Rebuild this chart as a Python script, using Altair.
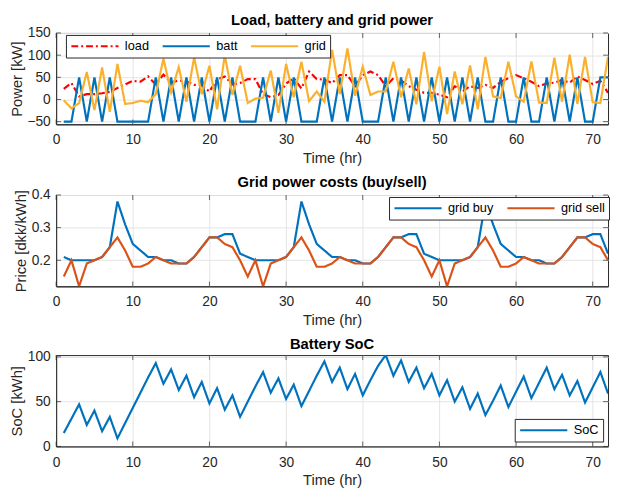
import altair as alt
import pandas as pd

hours = list(range(1, 73))

load = [24, 37, 7, 12, 12, 14, 17, 26, 34, 42, 40, 52, 34, 56, 38, 43, 41, 33, 32, 18,
        45, 52, 34, 37, 46, 46, 12, 5, 10, 36, 48, 25, 63, 46, 45, 37, 55, 55, 30, 55,
        63, 55, 30, 48, 43, 30, 22, 15, 15, 11, 5, 30, 18, 30, 26, 33, 26, 40, 48, 55,
        48, 40, 30, 36, 38, 44, 38, 52, 44, 35, 42, 15]

batt = [-50, -50, 50, -50, 50, -50, 50, -50, -50, -50, -50, -50, 50, -50, 50, -50, 50, -50, 50, -50,
        50, -50, 50, -50, -50, -50, 50, -50, 50, -50, 50, -50, -50, -50, 50, -50, 50, -50, 50, -50,
        -50, -50, 50, -50, 50, -50, 50, -50, 50, -50, 50, -50, 50, -50, 50, -50, -50, 50, -50, -50,
        50, -50, -50, 50, -50, 50, -50, 50, -50, -50, 50, 50]

grid = [-2, -20, -8, 62, -24, 72, -28, 80, -10, -8, -3, -6, 12, 92, 16, 73, -5, 95, 12, 76,
        -22, 100, 10, 76, -8, 2, 4, 65, -30, 80, 5, 85, -4, 18, -5, 112, 12, 115, 8, 74,
        10, 18, 18, 85, 5, 70, -11, 107, -4, 74, -33, 63, -11, 77, -22, 96, 7, 3, 85, 7,
        -5, 86, -7, -8, 94, -5, 101, -10, 96, -6, -8, 96]

price_buy = [0.21, 0.20, 0.20, 0.20, 0.20, 0.21, 0.24, 0.38, 0.31, 0.25, 0.23, 0.21,
             0.21, 0.20, 0.20, 0.19, 0.19, 0.21, 0.24, 0.27, 0.27, 0.28, 0.28, 0.22,
             0.21, 0.20, 0.20, 0.20, 0.20, 0.21, 0.24, 0.38, 0.31, 0.25, 0.23, 0.21,
             0.21, 0.20, 0.20, 0.19, 0.19, 0.21, 0.24, 0.27, 0.27, 0.28, 0.28, 0.22,
             0.21, 0.20, 0.20, 0.20, 0.20, 0.21, 0.24, 0.38, 0.31, 0.25, 0.23, 0.21,
             0.21, 0.20, 0.20, 0.19, 0.19, 0.21, 0.24, 0.27, 0.27, 0.28, 0.28, 0.22]

price_sell = [0.15, 0.20, 0.12, 0.19, 0.20, 0.21, 0.24, 0.27, 0.23, 0.18, 0.18, 0.19,
              0.21, 0.20, 0.19, 0.19, 0.19, 0.21, 0.24, 0.27, 0.27, 0.25, 0.24, 0.20,
              0.15, 0.20, 0.12, 0.19, 0.20, 0.21, 0.24, 0.27, 0.23, 0.18, 0.18, 0.19,
              0.21, 0.20, 0.19, 0.19, 0.19, 0.21, 0.24, 0.27, 0.27, 0.25, 0.24, 0.20,
              0.15, 0.20, 0.12, 0.19, 0.20, 0.21, 0.24, 0.27, 0.23, 0.18, 0.18, 0.19,
              0.21, 0.20, 0.19, 0.19, 0.19, 0.21, 0.24, 0.27, 0.27, 0.25, 0.24, 0.20]

soc = [15, 31, 47, 24, 40, 17, 33, 9, 26, 43, 60, 77, 93, 70, 86, 63, 79, 55, 72, 48,
       65, 41, 57, 33, 50, 67, 83, 60, 76, 53, 69, 45, 62, 79, 95, 72, 88, 64, 81, 57,
       74, 90, 102, 79, 96, 72, 88, 65, 81, 57, 74, 50, 66, 42, 59, 35, 51, 68, 44, 61,
       78, 54, 71, 88, 64, 80, 57, 73, 49, 66, 83, 59]

x_ticks = [0, 10, 20, 30, 40, 50, 60, 70]

FONT = "Liberation Sans"
AX = "#262626"
W = 562
H = 93
TL = 5  # inward tick length


def frame(name, values):
    return pd.DataFrame({"t": hours, "v": values, "s": name})


def xenc(axis=True):
    ax = alt.Axis(values=x_ticks, title="Time (hr)", labelFlush=False) if axis else None
    return alt.X("t:Q", scale=alt.Scale(domain=[0, 72], nice=False, zero=False), axis=ax)


def yenc(ydomain, yvals, yfmt, ytitle):
    return alt.Y("v:Q", scale=alt.Scale(domain=ydomain, nice=False, zero=False),
                 axis=alt.Axis(values=yvals, format=yfmt, title=ytitle))


def layers(series, names, colors, dashes, ydomain, yvals, yfmt, ytitle, legend):
    out = []
    # inward ticks on all four sides (MATLAB style box)
    dx = pd.DataFrame({"t": x_ticks})
    dy = pd.DataFrame({"v": yvals})
    tx = alt.Chart(dx).mark_tick(color=AX, thickness=1, size=TL)
    ty = alt.Chart(dy).mark_tick(color=AX, thickness=1, size=TL)
    out.append(tx.encode(x=xenc(), y=alt.value(H - TL / 2)))
    out.append(tx.encode(x=xenc(), y=alt.value(TL / 2)))
    out.append(ty.encode(y=yenc(ydomain, yvals, yfmt, ytitle), x=alt.value(TL / 2)))
    out.append(ty.encode(y=yenc(ydomain, yvals, yfmt, ytitle), x=alt.value(W - TL / 2)))
    for nm, vals in series:
        out.append(
            alt.Chart(frame(nm, vals)).mark_line(strokeWidth=2.2, clip=True).encode(
                x=xenc(),
                y=yenc(ydomain, yvals, yfmt, ytitle),
                color=alt.Color("s:N", scale=alt.Scale(domain=names, range=colors), legend=legend),
                strokeDash=alt.StrokeDash("s:N", scale=alt.Scale(domain=names, range=dashes), legend=legend),
            )
        )
    return out


leg1 = alt.Legend(title=None, orient="none", legendX=10, legendY=2, direction="horizontal")
p1 = alt.layer(*layers([("load", load), ("batt", batt), ("grid", grid)],
                       ["load", "batt", "grid"], ["#FF0000", "#0072BD", "#FBB02C"],
                       [[7, 3, 2, 3], [1, 0], [1, 0]],
                       [-56, 150], [-50, 0, 50, 100, 150], "d", "Power [kW]", leg1)
               ).properties(width=W, height=H,
                            title=alt.Title("Load, battery and grid power", frame="group"))

leg2 = alt.Legend(title=None, orient="none", legendX=339, legendY=2, direction="horizontal")
p2 = alt.layer(*layers([("grid buy", price_buy), ("grid sell", price_sell)],
                       ["grid buy", "grid sell"], ["#0072BD", "#D95319"],
                       [[1, 0], [1, 0]],
                       [0.12, 0.4], [0.2, 0.3, 0.4], ".1f", "Price [dkk/kWh]", leg2)
               ).properties(width=W, height=H,
                            title=alt.Title("Grid power costs (buy/sell)", frame="group"))

leg3 = alt.Legend(title=None, orient="none", legendX=467, legendY=65, direction="horizontal")
p3 = alt.layer(*layers([("SoC", soc)], ["SoC"], ["#0072BD"], [[1, 0]],
                       [0, 102], [0, 50, 100], "d", "SoC [kWh]", leg3)
               ).properties(width=W, height=H,
                            title=alt.Title("Battery SoC", frame="group"))

chart = alt.vconcat(p1, p2, p3, spacing=8).resolve_scale(
    color="independent", strokeDash="independent"
).resolve_legend(color="independent", strokeDash="independent").properties(
    padding={"left": 0, "top": 0, "right": 0, "bottom": 0}
).configure_view(
    stroke=AX, strokeWidth=1
).configure_axis(
    grid=True, gridColor="#E3E3E3", gridWidth=1, domainColor=AX, domainWidth=1,
    ticks=False, tickSize=0, labelColor=AX, titleColor=AX, labelFont=FONT, titleFont=FONT,
    labelFontSize=14, titleFontSize=15, titleFontWeight="normal", labelPadding=6,
    titlePadding=3
).configure_axisX(
    labelPadding=9, titlePadding=4
).configure_title(
    font=FONT, fontSize=15, fontWeight="bold", color="black", anchor="middle", offset=-2
).configure_legend(
    symbolType="stroke", symbolSize=2304, symbolStrokeWidth=2.2, labelFont=FONT,
    labelFontSize=13, labelColor="black", strokeColor=AX, fillColor="white", padding=4,
    labelOffset=5, columnPadding=12, cornerRadius=0, clipHeight=15
)

chart.save("out.html", embed_options={"renderer": "svg", "actions": False})
